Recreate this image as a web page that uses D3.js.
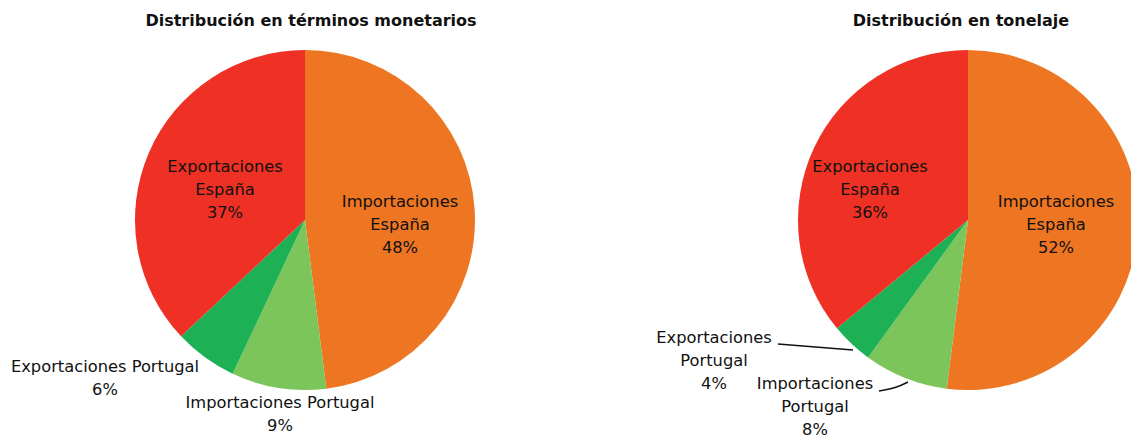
<!DOCTYPE html>
<html lang="es">
<head>
<meta charset="UTF-8">
<title>Distribución del comercio</title>
<style>
    body { margin: 0; background: #fff; }
    svg { display: block; font-family: "DejaVu Sans", sans-serif; }
    .title { font-weight: bold; font-size: 16px; fill: #111; text-anchor: middle; }
    .lbl { font-size: 16.3px; fill: #111; text-anchor: middle; }
    .leader { fill: none; stroke: #111; stroke-width: 1.4; }
</style>
</head>
<body>
<div id="chart"></div>
<script src="https://d3js.org/d3.v7.min.js"></script>
<script>
// categories in drawing order (clockwise from 12 o'clock)
const categories = ["Importaciones España", "Importaciones Portugal", "Exportaciones Portugal", "Exportaciones España"];
const colors = ["#ee7623", "#7cc55a", "#1db055", "#ee3124"];

// percentage values
const monetario = [48, 9, 6, 37];
const tonelaje = [52, 8, 4, 36];

const titles = ["Distribución en términos monetarios", "Distribución en tonelaje"];

const width = 1131, height = 437;
const svg = d3.select("#chart").append("svg")
    .attr("width", width)
    .attr("height", height);

const radius = 170;
const pie = d3.pie().sort(null).value(d => d.v);
const arc = d3.arc().innerRadius(0).outerRadius(radius);

// label layout per chart: [dx, dy] of the first line relative to pie centre, plus optional leader
const layouts = [
    {
        cx: 305, cy: 220, titleX: 311,
        labels: [
            { dx: 95, dy: -13, lines: ["Importaciones", "España"] },
            { dx: -25, dy: 188, lines: ["Importaciones Portugal"] },
            { dx: -200, dy: 152, lines: ["Exportaciones Portugal"] },
            { dx: -80, dy: -48, lines: ["Exportaciones", "España"] }
        ]
    },
    {
        cx: 968, cy: 220, titleX: 961,
        labels: [
            { dx: 88, dy: -13, lines: ["Importaciones", "España"] },
            { dx: -153, dy: 169, lines: ["Importaciones", "Portugal"], leader: [[-89, 171], [-72, 168], [-60, 162]] },
            { dx: -254, dy: 123, lines: ["Exportaciones", "Portugal"], leader: [[-190, 124], [-115, 130]] },
            { dx: -98, dy: -48, lines: ["Exportaciones", "España"] }
        ]
    }
];

[monetario, tonelaje].forEach((vals, k) => {
    const L = layouts[k];
    const data = vals.map((v, i) => ({ name: categories[i], v: v, color: colors[i] }));
    const g = svg.append("g").attr("transform", `translate(${L.cx},${L.cy})`);

    g.selectAll("path.slice")
        .data(pie(data))
        .join("path")
        .attr("class", "slice")
        .attr("d", arc)
        .attr("fill", d => d.data.color);

    svg.append("text")
        .attr("class", "title")
        .attr("x", L.titleX)
        .attr("y", 26)
        .text(titles[k]);

    data.forEach((d, i) => {
        const lab = L.labels[i];
        const lines = lab.lines.concat([d.v + "%"]);
        const t = g.append("text").attr("class", "lbl")
            .attr("x", lab.dx).attr("y", lab.dy);
        lines.forEach((s, j) => {
            t.append("tspan")
                .attr("x", lab.dx)
                .attr("dy", j === 0 ? 0 : 23)
                .text(s);
        });
        if (lab.leader) {
            g.append("path")
                .attr("class", "leader")
                .attr("d", d3.line().curve(d3.curveBasis)(lab.leader));
        }
    });
});
</script>
</body>
</html>
